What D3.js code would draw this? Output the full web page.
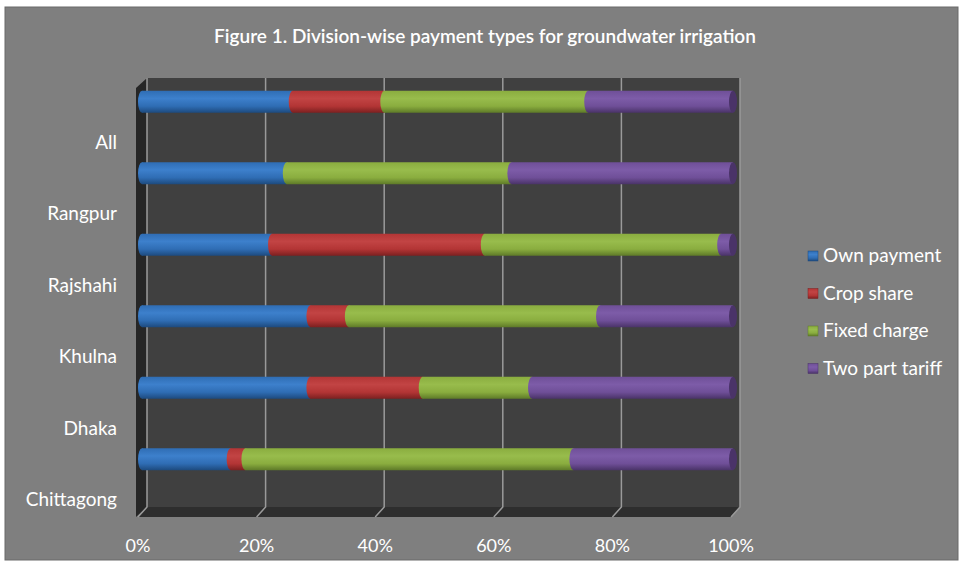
<!DOCTYPE html>
<html lang="en">
<head>
<meta charset="utf-8">
<title>Division-wise payment types</title>
<script src="https://d3js.org/d3.v7.min.js"></script>
<style>
  body { margin: 0; background: #fff; }
  text { font-family: Lato, "Open Sans", sans-serif; fill: #fff; }
</style>
</head>
<body>
<script>
// categories, top to bottom
const divisions = ["All", "Rangpur", "Rajshahi", "Khulna", "Dhaka", "Chittagong"];
const seriesNames = ["Own payment", "Crop share", "Fixed charge", "Two part tariff"];
// percentages per division (same order as divisions)
const ownPayment   = [25.5, 24.5, 22, 28.5, 28.5, 15];
const cropShare    = [15.5, 0,    36, 6.5,  19,   2.5];
const fixedCharge  = [34.5, 38,   40, 42.5, 18.5, 55.5];
const twoPartTariff= [24.5, 37.5, 2,  22.5, 34,   27];
const tickValues = [0, 20, 40, 60, 80, 100];

const colors = ["#2f6db4", "#b33535", "#8aad3f", "#6f4f98"];
const darks  = ["#1d4a7e", "#7c2020", "#5e7a28", "#4a3368"];
const lights = ["#3d80cc", "#c24444", "#98bc4c", "#7d5ca8"];

const width = 962, height = 569;
const svg = d3.select("body").append("svg")
  .attr("width", width).attr("height", height);

// gradients for cylinders
const defs = svg.append("defs");
colors.forEach((c, i) => {
  const g = defs.append("linearGradient").attr("id", "grad" + i)
    .attr("x1", 0).attr("y1", 0).attr("x2", 0).attr("y2", 1);
  g.append("stop").attr("offset", "0%").attr("stop-color", c);
  g.append("stop").attr("offset", "35%").attr("stop-color", lights[i]);
  g.append("stop").attr("offset", "70%").attr("stop-color", c);
  g.append("stop").attr("offset", "100%").attr("stop-color", darks[i]);
});

// background panel
svg.append("rect").attr("x", 5).attr("y", 7).attr("width", 953).attr("height", 553)
  .attr("fill", "#7f7f7f").attr("stroke", "#6a6a6a");

// title
svg.append("text").attr("x", 485).attr("y", 43).attr("text-anchor", "middle")
  .attr("font-size", 19).attr("font-weight", 600)
  .text("Figure 1. Division-wise payment types for groundwater irrigation");

// 3D frame
const depthX = 9, depthY = 10;
const xBack = d3.scaleLinear().domain([0, 100]).range([147, 740]);
const xFront = d3.scaleLinear().domain([0, 100]).range([147 - depthX, 740 - depthX]);
const xBar = d3.scaleLinear().domain([0, 100]).range([142, 733]);
const wallTop = 78, wallBottom = 507;

// back wall
svg.append("rect").attr("x", xBack(0)).attr("y", wallTop)
  .attr("width", xBack(100) - xBack(0)).attr("height", wallBottom - wallTop)
  .attr("fill", "#404040");
// left side wall
svg.append("path")
  .attr("d", `M${xBack(0)},${wallTop} L${xFront(0) - 2},${wallTop + depthY} L${xFront(0) - 2},${wallBottom + depthY} L${xBack(0)},${wallBottom} Z`)
  .attr("fill", "#262626");
// floor
svg.append("path")
  .attr("d", `M${xBack(0)},${wallBottom} L${xBack(100)},${wallBottom} L${xFront(100)},${wallBottom + depthY} L${xFront(0)},${wallBottom + depthY} Z`)
  .attr("fill", "#2e2e2e");

// gridlines
svg.append("g").selectAll("path").data(tickValues).join("path")
  .attr("d", d => `M${xBack(d)},${wallTop} L${xBack(d)},${wallBottom} L${xFront(d)},${wallBottom + depthY}`)
  .attr("fill", "none").attr("stroke", "#9a9a9a").attr("stroke-width", 1.5);

// x tick labels
svg.append("g").selectAll("text").data(tickValues).join("text")
  .attr("x", d => xFront(d)).attr("y", 552).attr("text-anchor", "middle")
  .attr("font-size", 18).text(d => d + "%");

// y scale
const y = d3.scaleBand().domain(divisions).range([66, 495]);
const barH = 22;

// category labels (offset below the bars as in the original)
svg.append("g").selectAll("text").data(divisions).join("text")
  .attr("x", 117).attr("y", d => y(d) + y.bandwidth() / 2 + 47)
  .attr("text-anchor", "end").attr("font-size", 19).text(d => d);

// stacked data
const table = divisions.map((d, i) => ({
  division: d,
  "Own payment": ownPayment[i],
  "Crop share": cropShare[i],
  "Fixed charge": fixedCharge[i],
  "Two part tariff": twoPartTariff[i]
}));
const stacked = d3.stack().keys(seriesNames)(table);

const capRx = 4;
stacked.forEach((layer, si) => {
  const g = svg.append("g");
  layer.forEach(seg => {
    if (seg[1] - seg[0] <= 0) return;
    const cy = y(seg.data.division) + y.bandwidth() / 2;
    const x0 = xBar(seg[0]), x1 = xBar(seg[1]);
    g.append("rect").attr("x", x0).attr("y", cy - barH / 2)
      .attr("width", x1 - x0).attr("height", barH).attr("fill", `url(#grad${si})`);
    g.append("ellipse").attr("cx", x0).attr("cy", cy).attr("rx", capRx).attr("ry", barH / 2)
      .attr("fill", `url(#grad${si})`);
    if (si === seriesNames.length - 1) {
      g.append("ellipse").attr("cx", x1).attr("cy", cy).attr("rx", capRx).attr("ry", barH / 2)
        .attr("fill", darks[si]);
    }
  });
});

// legend
const legend = svg.append("g").selectAll("g").data(seriesNames).join("g")
  .attr("transform", (d, i) => `translate(808, ${256 + i * 37.5})`);
legend.append("rect").attr("x", 0).attr("y", -5).attr("width", 10).attr("height", 10)
  .attr("fill", (d, i) => `url(#grad${i})`).attr("stroke", (d, i) => darks[i]).attr("stroke-width", 0.5);
legend.append("text").attr("x", 15).attr("y", 6).attr("font-size", 19).text(d => d);
</script>
</body>
</html>
